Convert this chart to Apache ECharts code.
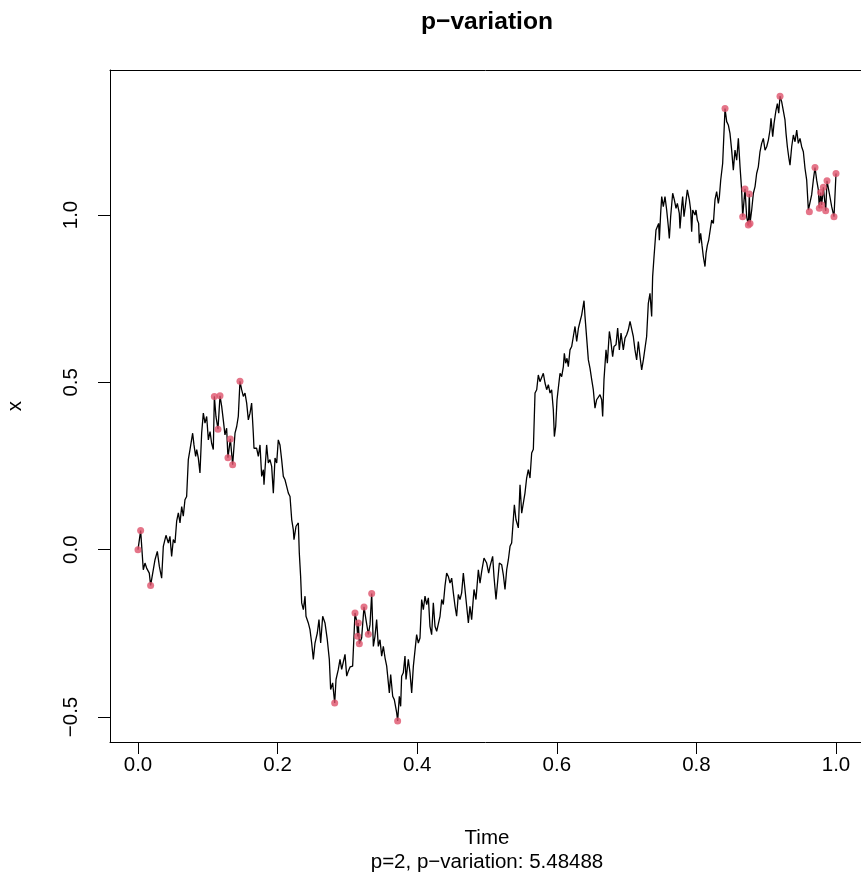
<!DOCTYPE html>
<html>
<head>
<meta charset="utf-8">
<script src="https://cdn.jsdelivr.net/npm/echarts@6/dist/echarts.min.js"></script>
<style>
html,body{margin:0;padding:0;background:#fff;}
#chart{width:861px;height:882px;}
</style>
</head>
<body>
<div id="chart"></div>
<script>
// Path of the process: time and value
var time = [0,0.0038,0.0076,0.0100,0.0124,0.0148,0.0162,0.0181,0.0244,0.0277,0.0306,0.0339,0.0363,0.0401,0.0435,0.0458,0.0482,0.0506,0.0530,0.0554,0.0578,0.0602,0.0626,0.0649,0.0673,0.0697,0.0721,0.0745,0.0769,0.0783,0.0802,0.0826,0.0841,0.0864,0.0888,0.0912,0.0936,0.0960,0.0984,0.1008,0.1032,0.1055,0.1079,0.1094,0.1117,0.1146,0.1175,0.1199,0.1222,0.1246,0.1270,0.1289,0.1323,0.1356,0.1390,0.1414,0.1437,0.1461,0.1485,0.1509,0.1533,0.1557,0.1581,0.1605,0.1628,0.1652,0.1662,0.1700,0.1724,0.1748,0.1772,0.1796,0.1805,0.1843,0.1867,0.1891,0.1915,0.1939,0.1963,0.1987,0.2010,0.2034,0.2058,0.2082,0.2106,0.2130,0.2154,0.2178,0.2202,0.2225,0.2235,0.2264,0.2297,0.2311,0.2330,0.2345,0.2369,0.2393,0.2407,0.2440,0.2464,0.2488,0.2512,0.2536,0.2569,0.2593,0.2617,0.2646,0.2679,0.2712,0.2741,0.2760,0.2789,0.2818,0.2837,0.2870,0.2894,0.2918,0.2942,0.2966,0.2990,0.3013,0.3040,0.3075,0.3109,0.3133,0.3147,0.3157,0.3171,0.3204,0.3238,0.3266,0.3300,0.3324,0.3348,0.3372,0.3395,0.3419,0.3443,0.3467,0.3491,0.3515,0.3539,0.3563,0.3601,0.3620,0.3649,0.3672,0.3706,0.3720,0.3744,0.3763,0.3777,0.3801,0.3825,0.3840,0.3873,0.3897,0.3921,0.3945,0.3992,0.4016,0.4040,0.4064,0.4088,0.4112,0.4136,0.4160,0.4183,0.4207,0.4231,0.4255,0.4279,0.4303,0.4327,0.4351,0.4374,0.4398,0.4422,0.4446,0.4470,0.4494,0.4518,0.4542,0.4565,0.4589,0.4613,0.4637,0.4661,0.4685,0.4709,0.4733,0.4756,0.4780,0.4814,0.4842,0.4876,0.4900,0.4924,0.4957,0.4995,0.5024,0.5043,0.5081,0.5100,0.5129,0.5148,0.5177,0.5210,0.5234,0.5258,0.5282,0.5306,0.5330,0.5353,0.5377,0.5392,0.5415,0.5449,0.5473,0.5497,0.5521,0.5544,0.5568,0.5592,0.5616,0.5640,0.5664,0.5678,0.5688,0.5712,0.5735,0.5759,0.5783,0.5807,0.5831,0.5855,0.5879,0.5903,0.5926,0.5950,0.5965,0.5984,0.6003,0.6022,0.6046,0.6070,0.6094,0.6108,0.6127,0.6146,0.6165,0.6189,0.6213,0.6237,0.6261,0.6285,0.6309,0.6332,0.6356,0.6390,0.6404,0.6428,0.6452,0.6476,0.6500,0.6523,0.6547,0.6571,0.6595,0.6619,0.6643,0.6657,0.6676,0.6705,0.6724,0.6753,0.6772,0.6800,0.6819,0.6848,0.6872,0.6896,0.6920,0.6953,0.6977,0.7001,0.7025,0.7049,0.7073,0.7096,0.7120,0.7144,0.7168,0.7192,0.7216,0.7240,0.7264,0.7287,0.7311,0.7335,0.7359,0.7373,0.7393,0.7421,0.7440,0.7459,0.7469,0.7488,0.7503,0.7526,0.7550,0.7574,0.7598,0.7612,0.7631,0.7660,0.7684,0.7708,0.7727,0.7755,0.7765,0.7789,0.7803,0.7822,0.7841,0.7870,0.7899,0.7918,0.7932,0.7947,0.7980,0.7994,0.8013,0.8032,0.8042,0.8061,0.8080,0.8099,0.8123,0.8138,0.8157,0.8176,0.8195,0.8219,0.8243,0.8266,0.8290,0.8314,0.8329,0.8348,0.8376,0.8410,0.8434,0.8457,0.8481,0.8505,0.8529,0.8553,0.8577,0.8601,0.8625,0.8648,0.8663,0.8696,0.8720,0.8744,0.8758,0.8768,0.8792,0.8816,0.8840,0.8863,0.8887,0.8911,0.8935,0.8959,0.8983,0.9007,0.9031,0.9054,0.9069,0.9093,0.9112,0.9140,0.9160,0.9179,0.9198,0.9222,0.9246,0.9269,0.9284,0.9303,0.9322,0.9341,0.9365,0.9389,0.9413,0.9437,0.9460,0.9484,0.9508,0.9532,0.9556,0.9580,0.9604,0.9618,0.9651,0.9675,0.9699,0.9723,0.9747,0.9761,0.9780,0.9795,0.9819,0.9852,0.9871,0.9904,0.9938,0.9971,1.0000];
var xValue = [0,0.057,-0.060,-0.040,-0.055,-0.050,-0.070,-0.107,-0.030,-0.005,-0.050,-0.085,0.010,0.043,0.020,0.040,-0.020,0.030,0.020,0.085,0.110,0.080,0.129,0.100,0.149,0.159,0.269,0.299,0.299,0.348,0.313,0.279,0.299,0.274,0.229,0.348,0.408,0.378,0.398,0.328,0.353,0.318,0.299,0.458,0.398,0.360,0.460,0.428,0.388,0.343,0.363,0.275,0.331,0.254,0.348,0.368,0.398,0.503,0.478,0.458,0.468,0.438,0.388,0.408,0.438,0.348,0.303,0.303,0.279,0.313,0.219,0.239,0.194,0.313,0.259,0.269,0.249,0.169,0.274,0.259,0.328,0.313,0.269,0.219,0.209,0.189,0.169,0.159,0.090,0.060,0.030,0.070,0.080,-0.010,-0.080,-0.159,-0.179,-0.139,-0.199,-0.219,-0.239,-0.279,-0.328,-0.279,-0.249,-0.209,-0.279,-0.199,-0.219,-0.269,-0.328,-0.418,-0.398,-0.458,-0.388,-0.358,-0.328,-0.358,-0.363,-0.313,-0.378,-0.363,-0.350,-0.348,-0.189,-0.214,-0.259,-0.219,-0.281,-0.264,-0.171,-0.209,-0.253,-0.224,-0.131,-0.289,-0.259,-0.209,-0.289,-0.269,-0.318,-0.289,-0.323,-0.348,-0.428,-0.373,-0.438,-0.448,-0.487,-0.512,-0.438,-0.468,-0.378,-0.368,-0.318,-0.388,-0.328,-0.368,-0.428,-0.348,-0.254,-0.279,-0.264,-0.149,-0.179,-0.139,-0.164,-0.144,-0.229,-0.254,-0.159,-0.229,-0.244,-0.249,-0.199,-0.149,-0.164,-0.109,-0.070,-0.080,-0.100,-0.085,-0.129,-0.169,-0.199,-0.134,-0.149,-0.129,-0.070,-0.065,-0.169,-0.219,-0.169,-0.209,-0.119,-0.149,-0.060,-0.100,-0.065,-0.025,-0.040,-0.070,-0.050,-0.020,-0.080,-0.149,-0.154,-0.040,-0.045,-0.075,-0.119,-0.060,-0.030,0.010,0.020,0.090,0.134,0.090,0.065,0.194,0.109,0.104,0.169,0.214,0.239,0.214,0.289,0.300,0.398,0.468,0.478,0.522,0.502,0.507,0.527,0.498,0.478,0.493,0.468,0.478,0.418,0.338,0.368,0.448,0.483,0.527,0.517,0.547,0.587,0.557,0.572,0.547,0.597,0.607,0.637,0.667,0.622,0.661,0.681,0.701,0.744,0.697,0.632,0.567,0.542,0.508,0.478,0.423,0.448,0.453,0.463,0.448,0.398,0.508,0.597,0.557,0.652,0.627,0.577,0.607,0.612,0.662,0.597,0.647,0.597,0.632,0.642,0.657,0.682,0.687,0.637,0.597,0.567,0.622,0.577,0.537,0.567,0.572,0.637,0.736,0.766,0.697,0.816,0.876,0.955,0.965,0.975,0.925,1.005,1.055,1.025,1.055,1.015,0.965,0.930,0.995,1.065,1.045,1.020,1.035,1.005,0.960,1.025,1.055,0.995,1.025,1.075,1.045,1.015,0.950,1.015,1.000,1.015,0.985,0.975,0.916,0.945,0.910,0.876,0.846,0.886,0.910,0.925,0.920,0.985,0.975,1.045,1.070,1.035,1.055,1.104,1.154,1.318,1.279,1.269,1.244,1.194,1.134,1.194,1.164,1.229,1.144,1.075,0.995,1.078,0.995,0.970,1.063,0.975,1.015,1.065,1.085,1.124,1.144,1.189,1.214,1.229,1.194,1.204,1.224,1.254,1.289,1.234,1.274,1.313,1.333,1.304,1.355,1.338,1.333,1.284,1.244,1.204,1.174,1.149,1.204,1.239,1.219,1.254,1.214,1.229,1.204,1.189,1.139,1.104,1.015,1.010,1.060,1.104,1.142,1.104,1.075,1.020,1.067,1.030,1.083,1.013,1.102,1.065,1.025,0.995,1.124];

// p-variation partition points
var pointTime = [0,0.0038,0.0181,0.1094,0.1146,0.1175,0.1289,0.1323,0.1356,0.1461,0.2818,0.3109,0.3147,0.3157,0.3171,0.3238,0.3300,0.3348,0.3720,0.8410,0.8663,0.8696,0.8744,0.8758,0.8768,0.9198,0.9618,0.9699,0.9761,0.9780,0.9795,0.9819,0.9852,0.9871,0.9971,1.0000];
var pointValue = [0,0.057,-0.107,0.458,0.360,0.460,0.275,0.331,0.254,0.503,-0.458,-0.189,-0.259,-0.219,-0.281,-0.171,-0.253,-0.131,-0.512,1.318,0.995,1.078,0.970,1.063,0.975,1.355,1.010,1.142,1.020,1.067,1.030,1.083,1.013,1.102,0.995,1.124];

var xTicks = [0, 0.2, 0.4, 0.6, 0.8, 1.0];
var yTicks = [-0.5, 0, 0.5, 1.0];

var titleText = 'p\u2212variation';
var xLabel = 'Time';
var yLabel = 'x';
var subText = 'p=2, p\u2212variation: 5.48488';

var FONT = '"Liberation Sans", Arial, Helvetica, sans-serif';
function fmt(v){ var s = v.toFixed(1); return s.charAt(0) === '-' ? '\u2212' + s.slice(1) : s; }

var chart = echarts.init(document.getElementById('chart'), null, {renderer:'canvas'});
var pathData = time.map(function(t,i){ return [t, xValue[i]]; });
var ptData = pointTime.map(function(t,i){ return [t, pointValue[i]]; });

chart.setOption({
  animation:false,
  backgroundColor:'#fff',
  grid:{left:110, top:70, right:0, height:672, containLabel:false},
  xAxis:[{
    type:'value', min:-0.0401, max:1.0358, position:'bottom',
    splitLine:{show:false},
    axisLine:{show:true, onZero:false, lineStyle:{color:'#000', width:1}},
    axisTick:{show:true, inside:false, length:12, customValues:xTicks, lineStyle:{color:'#000', width:1}},
    axisLabel:{show:true, margin:13, customValues:xTicks, formatter:fmt, color:'#000', fontSize:20.5, fontFamily:FONT}
  },{
    type:'value', min:-0.0401, max:1.0358, position:'top',
    splitLine:{show:false},
    axisLine:{show:true, onZero:false, lineStyle:{color:'#000', width:1}},
    axisTick:{show:false}, axisLabel:{show:false}
  }],
  yAxis:[{
    type:'value', min:-0.5747, max:1.4333, position:'left',
    splitLine:{show:false},
    axisLine:{show:true, onZero:false, lineStyle:{color:'#000', width:1}},
    axisTick:{show:true, inside:false, length:12, customValues:yTicks, lineStyle:{color:'#000', width:1}},
    axisLabel:{show:true, margin:28, rotate:90, customValues:yTicks, formatter:fmt, color:'#000', fontSize:20.5, fontFamily:FONT}
  }],
  series:[{
    type:'line', data:pathData, xAxisIndex:0, yAxisIndex:0,
    showSymbol:false, symbol:'none',
    lineStyle:{color:'#000', width:1.3}, z:2
  },{
    type:'scatter', data:ptData, xAxisIndex:0, yAxisIndex:0,
    symbol:'circle', symbolSize:7,
    itemStyle:{color:'#DF536B'}, z:3
  }],
  graphic:[
    {type:'text', x:487, y:22, style:{text:titleText, fill:'#000', font:'bold 24.6px ' + FONT, textAlign:'center', textVerticalAlign:'middle'}},
    {type:'text', x:487, y:838, style:{text:xLabel, fill:'#000', font:'20.5px ' + FONT, textAlign:'center', textVerticalAlign:'middle'}},
    {type:'text', x:487, y:862, style:{text:subText, fill:'#000', font:'20.5px ' + FONT, textAlign:'center', textVerticalAlign:'middle'}},
    {type:'text', x:15, y:406, rotation:Math.PI/2, style:{text:yLabel, fill:'#000', font:'20.5px ' + FONT, textAlign:'center', textVerticalAlign:'middle'}}
  ]
});
</script>
</body>
</html>
